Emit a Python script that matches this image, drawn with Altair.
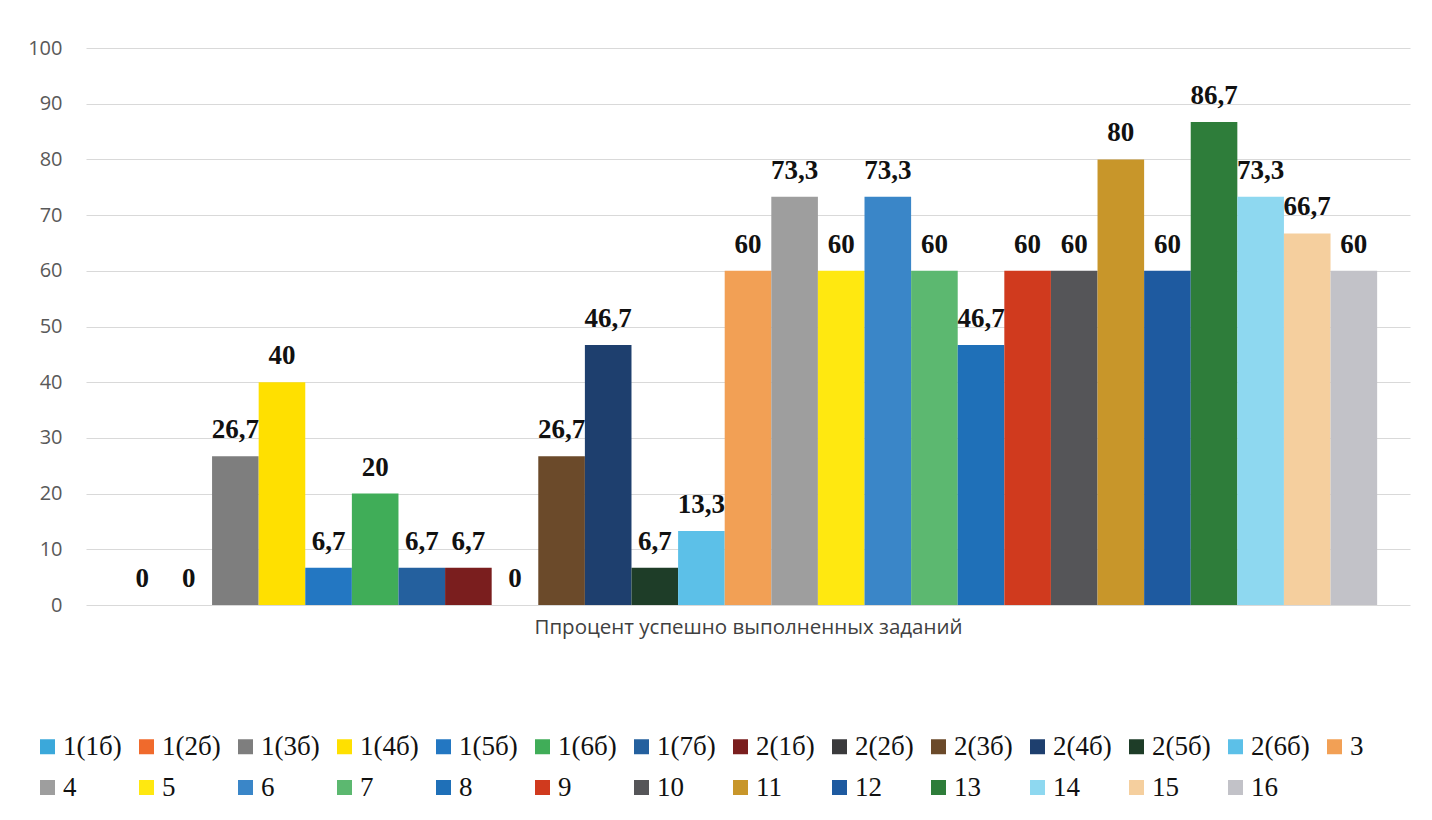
import altair as alt
import pandas as pd

series = ["1(1б)", "1(2б)", "1(3б)", "1(4б)", "1(5б)", "1(6б)", "1(7б)",
          "2(1б)", "2(2б)", "2(3б)", "2(4б)", "2(5б)", "2(6б)",
          "3", "4", "5", "6", "7", "8", "9", "10", "11", "12", "13", "14", "15", "16"]
values = [0, 0, 26.7, 40, 6.7, 20, 6.7,
          6.7, 0, 26.7, 46.7, 6.7, 13.3,
          60, 73.3, 60, 73.3, 60, 46.7, 60, 60, 80, 60, 86.7, 73.3, 66.7, 60]
colors = ["#3BA8DA", "#F06A2C", "#7E7E7E", "#FFE000", "#2377C2", "#40AD58", "#24609E",
          "#7A1E1E", "#3A3A3C", "#6B4A2A", "#1E3F6E", "#1E3D28", "#5CC0E8",
          "#F2A055", "#9E9E9E", "#FFE810", "#3A86C8", "#5CB870", "#1F70B8", "#D03A1E",
          "#555558", "#C8962A", "#1E5AA0", "#2E7D3A", "#8ED8F0", "#F5CF9E", "#C2C2C8"]
x_title = "Ппроцент успешно выполненных заданий"

df = pd.DataFrame({
    "series": series,
    "value": values,
    "label": [f"{v:g}".replace(".", ",") for v in values],
})

x_enc = alt.X("series:N", sort=series,
              scale=alt.Scale(paddingInner=0, paddingOuter=0.705),
              axis=alt.Axis(labels=False, ticks=False, domain=False, title=x_title,
                            titleFont="Open Sans", titleFontSize=20.5, titleFontWeight="normal",
                            titleColor="#404040", titlePadding=12))
y_enc = alt.Y("value:Q", scale=alt.Scale(domain=[0, 100], nice=False),
              axis=alt.Axis(values=list(range(0, 101, 10)), title=None, ticks=False, domain=False,
                            labelFont="Open Sans", labelFontSize=20, labelColor="#595959",
                            labelPadding=24, gridColor="#d9d9d9", gridWidth=1))

bars = alt.Chart(df).mark_bar().encode(
    x=x_enc,
    y=y_enc,
    color=alt.Color("series:N", sort=series,
                    scale=alt.Scale(domain=series, range=colors),
                    legend=alt.Legend(title=None, orient="none", legendX=-52, legendY=685,
                                      columns=14, direction="horizontal", gridAlign="all",
                                      columnPadding=11, rowPadding=13,
                                      symbolType="square", symbolSize=225, symbolStrokeWidth=0,
                                      labelFont="Liberation Serif", labelFontSize=27,
                                      labelColor="#111111", labelOffset=2, padding=0)),
)

labels = alt.Chart(df).mark_text(
    font="Liberation Serif", fontSize=27, fontWeight="bold", color="#111111",
    baseline="alphabetic", dy=-18
).encode(
    x=alt.X("series:N", sort=series),
    y="value:Q",
    text="label:N",
)

chart = alt.layer(bars, labels).properties(
    width=1324, height=557,
    padding={"left": 78, "top": 40, "right": 14, "bottom": 200},
    autosize=alt.AutoSizeParams(type="none"),
    background="white",
).configure_view(stroke=None)

chart.save("out.html", embed_options={"renderer": "svg", "actions": False})
